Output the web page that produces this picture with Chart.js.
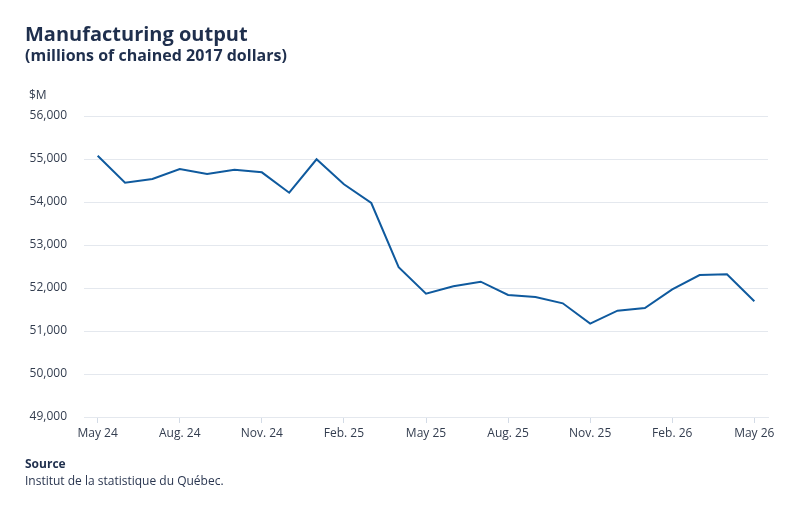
<!DOCTYPE html>
<html>
<head>
<meta charset="utf-8">
<script src="https://cdn.jsdelivr.net/npm/chart.js@4.4.1/dist/chart.umd.min.js"></script>
<style>
  html,body{margin:0;padding:0;background:#fff;}
  body{width:800px;height:510px;position:relative;overflow:hidden;font-family:"Open Sans",sans-serif;color:#1f2f4d;}
  #wrap{position:absolute;left:0;top:0;width:800px;height:510px;}
  .t{position:absolute;white-space:nowrap;}
  #title{left:25px;top:20px;font-size:20px;font-weight:700;}
  #sub{left:25px;top:44px;font-size:16px;font-weight:700;}
  #unit{left:29px;top:86px;font-size:12px;color:#333d4f;}
  #srcH{left:25px;top:455px;font-size:12px;font-weight:700;}
  #src{left:25px;top:472px;font-size:12px;color:#2a3650;}
</style>
</head>
<body>
<div id="wrap"><canvas id="c"></canvas></div>
<div class="t" id="title">Manufacturing output</div>
<div class="t" id="sub">(millions of chained 2017 dollars)</div>
<div class="t" id="unit">$M</div>
<div class="t" id="srcH">Source</div>
<div class="t" id="src">Institut de la statistique du Québec.</div>
<script>
// mois mai 2024 - mai 2026
var months = ["May 24","Jun. 24","Jul. 24","Aug. 24","Sep. 24","Oct. 24","Nov. 24","Dec. 24",
  "Jan. 25","Feb. 25","Mar. 25","Apr. 25","May 25","Jun. 25","Jul. 25","Aug. 25","Sep. 25",
  "Oct. 25","Nov. 25","Dec. 25","Jan. 26","Feb. 26","Mar. 26","Apr. 26","May 26"];
var output = [55077,54449,54535,54767,54651,54752,54690,54216,
  54993,54412,53977,52483,51868,52039,52147,51837,51791,
  51644,51171,51473,51535,51969,52302,52318,51690];
var yMin = 49000, yMax = 56000, yStep = 1000;

var LINE = "#0f5a9e", GRID = "#e4e8ee", TXT = "#333d4f";
function fmt(v){ return v.toLocaleString("en-US"); }

new Chart(document.getElementById("c"), {
  type: "line",
  data: {
    labels: months,
    datasets: [{ data: output, borderColor: LINE, borderWidth: 2, pointRadius: 0, tension: 0, fill: false }]
  },
  options: {
    responsive: true, maintainAspectRatio: false, animation: false,
    layout: { padding: { top: 116, right: 32, left: 0, bottom: 0 } },
    plugins: { legend: { display: false }, tooltip: { enabled: false } },
    scales: {
      x: {
        offset: true,
        grid: { drawOnChartArea: false, drawTicks: true, tickLength: 6, color: "#d3dbe6", offset: false },
        border: { display: true, color: GRID, width: 1 },
        ticks: {
          autoSkip: false, maxRotation: 0, padding: 3, color: TXT,
          font: { family: "Open Sans", size: 12 },
          callback: function(v, i){ return i % 3 === 0 ? months[i] : null; }
        },
        afterFit: function(s){ s.height = 93; }
      },
      y: {
        min: yMin, max: yMax,
        grid: { color: GRID, drawTicks: false },
        border: { display: false },
        ticks: { stepSize: yStep, padding: 17, color: TXT, font: { family: "Open Sans", size: 12 },
          callback: function(v){ return fmt(v); } },
        afterFit: function(s){ s.width = 84; }
      }
    }
  }
});
</script>
</body>
</html>
